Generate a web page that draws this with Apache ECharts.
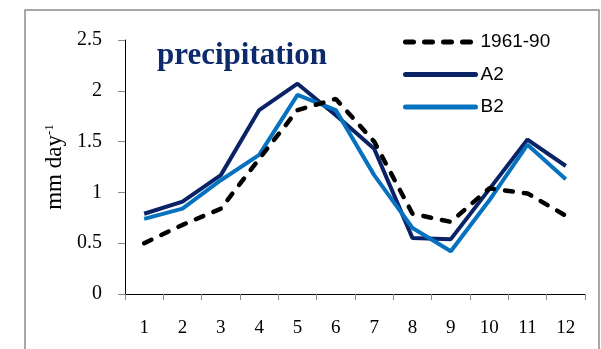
<!DOCTYPE html>
<html>
<head>
<meta charset="utf-8">
<script src="https://cdn.jsdelivr.net/npm/echarts@6/dist/echarts.min.js"></script>
<style>
html,body{margin:0;padding:0;background:#fff;}
#chart{width:601px;height:349px;}
</style>
</head>
<body>
<div id="chart"></div>
<script>
var months = ['1','2','3','4','5','6','7','8','9','10','11','12'];
var baseline = [0.50, 0.68, 0.84, 1.33, 1.81, 1.92, 1.50, 0.79, 0.71, 1.04, 0.99, 0.77];
var a2 = [0.79, 0.91, 1.17, 1.81, 2.07, 1.76, 1.43, 0.55, 0.54, 1.03, 1.52, 1.26];
var b2 = [0.74, 0.84, 1.12, 1.37, 1.96, 1.81, 1.17, 0.65, 0.42, 0.92, 1.47, 1.13];
var seriesNames = ['1961-90', 'A2', 'B2'];
var yTicks = {min: 0, max: 2.5, interval: 0.5};

var chart = echarts.init(document.getElementById('chart'), null, {renderer: 'canvas'});
var serif = 'Liberation Serif';
var sans = 'Liberation Sans';
var colors = ['#000', '#0a2366', '#0672bf'];
chart.setOption({
  animation: false,
  backgroundColor: '#fff',
  graphic: [{
    type: 'rect',
    shape: {x: 25, y: 10, width: 574, height: 360},
    style: {fill: 'none', stroke: '#8c8c8c', lineWidth: 1.5},
    silent: true
  }],
  title: {
    text: 'precipitation',
    left: 152, top: 35,
    textStyle: {fontFamily: serif, fontWeight: 'bold', fontSize: 31, color: '#0d2a6b'}
  },
  legend: {
    orient: 'vertical',
    left: 398, top: 27,
    itemWidth: 70, itemHeight: 14, itemGap: 12.5,
    textStyle: {fontFamily: sans, fontSize: 19, color: '#000', lineHeight: 20},
    itemStyle: {opacity: 0},
    data: [
      {name: seriesNames[0], lineStyle: {color: colors[0], width: 5, type: [8, 11], cap: 'round'}},
      {name: seriesNames[1], lineStyle: {color: colors[1], width: 5, cap: 'round'}},
      {name: seriesNames[2], lineStyle: {color: colors[2], width: 5, cap: 'round'}}
    ]
  },
  grid: {left: 125, right: 16, top: 40, bottom: 55},
  xAxis: {
    type: 'category',
    data: months,
    boundaryGap: true,
    axisLine: {lineStyle: {color: '#000', width: 1}},
    axisTick: {show: true, length: 6, lineStyle: {color: '#888'}},
    axisLabel: {fontFamily: serif, fontSize: 19, color: '#000', margin: 25},
    splitLine: {show: false}
  },
  yAxis: {
    type: 'value',
    min: yTicks.min, max: yTicks.max, interval: yTicks.interval,
    name: 'mm day{sup|-1}',
    nameLocation: 'middle',
    nameRotate: 90,
    nameGap: 58,
    nameTextStyle: {fontFamily: serif, fontSize: 23, color: '#000',
      rich: {sup: {fontFamily: serif, fontSize: 13, color: '#000', verticalAlign: 'top', padding: [0,0,11,0]}}},
    axisLine: {show: true, lineStyle: {color: '#000', width: 1}},
    axisTick: {show: true, length: 7, lineStyle: {color: '#888'}},
    axisLabel: {fontFamily: serif, fontSize: 20, color: '#000', margin: 23},
    splitLine: {show: false}
  },
  series: [
    {name: seriesNames[0], type: 'line', data: baseline, symbol: 'none', z: 3,
     lineStyle: {color: colors[0], width: 4.5, type: [8, 11], cap: 'round'},
     itemStyle: {color: colors[0]}},
    {name: seriesNames[1], type: 'line', data: a2, symbol: 'none', z: 2,
     lineStyle: {color: colors[1], width: 4}, itemStyle: {color: colors[1]}},
    {name: seriesNames[2], type: 'line', data: b2, symbol: 'none', z: 2,
     lineStyle: {color: colors[2], width: 4}, itemStyle: {color: colors[2]}}
  ]
});
</script>
</body>
</html>
